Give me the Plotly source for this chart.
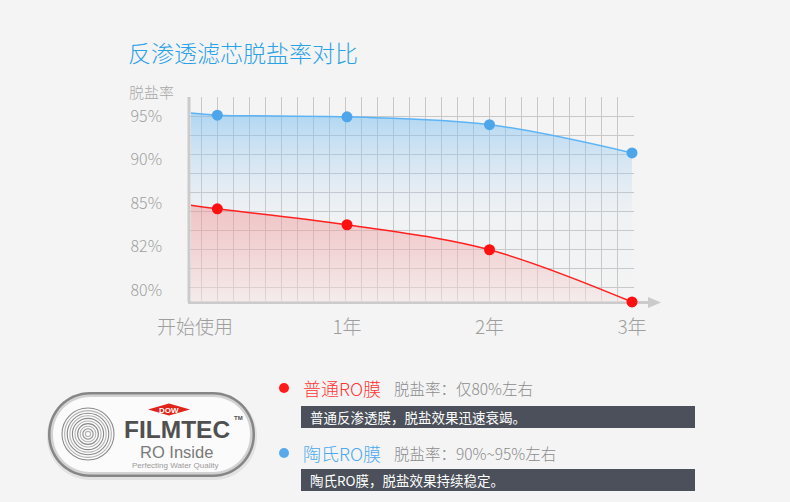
import numpy as np
import plotly.graph_objects as go

# ---------------- data ----------------
categories = ["开始使用", "1年", "2年", "3年"]
category_label_pos = [-0.067, 1, 2, 3]       # where the axis labels sit (years)
point_years = [0.09, 1, 2, 3]                # where the points sit (years)
line_start_year = -0.095                     # lines start at the left axis

y_tick_values = [80, 82, 85, 90, 95]         # non-linear, evenly spaced ticks
y_tick_labels = ["80%", "82%", "85%", "90%", "95%"]

dow_values = [95.1, 94.9, 94.0, 90.75]       # 陶氏RO膜
dow_start = 95.35
normal_values = [84.6, 83.5, 81.85, 79.45]   # 普通RO膜
normal_start = 84.85

# ---------------- styling ----------------
FONT = "Noto Sans CJK SC, Noto Sans, sans-serif"
BG = "#f4f4f4"
BLUE_LINE = "#5db4f5"
BLUE_MARK = "#4ea6ea"
RED_LINE = "#ff2020"
RED_MARK = "#ff1010"
GRID = "#c8c8c8"
AXIS = "#cbcbcb"

L, R, T, B = 189, 634, 97, 302
PX_PER_TICK = 43.5
BASE = 12 / PX_PER_TICK
Y_TOP = (B - T) / PX_PER_TICK
X_LEFT = (L - 204.5) / 142.5
X_RIGHT = (R - 204.5) / 142.5


def to_axis(v):
    v = np.asarray(v, float)
    lv = np.array(y_tick_values, float)
    idx = np.interp(v, lv, np.arange(len(lv)))
    idx = np.where(v < lv[0], (v - lv[0]) / (lv[1] - lv[0]), idx)
    idx = np.where(v > lv[-1], len(lv) - 1 + (v - lv[-1]) / (lv[-1] - lv[-2]), idx)
    return idx + BASE


def px(x):
    return (x - L) / (R - L)


def py(y):
    return (B - y) / (B - T)


def rrect(x0, y0, x1, y1, r):
    k = 0.5523 * r
    P = lambda x, y: f"{px(x):.5f},{py(y):.5f}"
    return (f"M{P(x0+r,y0)} L{P(x1-r,y0)} C{P(x1-r+k,y0)} {P(x1,y0+r-k)} {P(x1,y0+r)} "
            f"L{P(x1,y1-r)} C{P(x1,y1-r+k)} {P(x1-r+k,y1)} {P(x1-r,y1)} "
            f"L{P(x0+r,y1)} C{P(x0+r-k,y1)} {P(x0,y1-r+k)} {P(x0,y1-r)} "
            f"L{P(x0,y0+r)} C{P(x0,y0+r-k)} {P(x0+r-k,y0)} {P(x0+r,y0)} Z")


fig = go.Figure()

# grid carrier (overlay axes in pixel-like units)
fig.add_trace(go.Scatter(x=[300], y=[100], xaxis="x2", yaxis="y2", mode="markers",
                         marker=dict(opacity=0), hoverinfo="skip", showlegend=False))

line_x = [line_start_year] + point_years
dow_y = to_axis([dow_start] + dow_values)
normal_y = to_axis([normal_start] + normal_values)

fig.add_trace(go.Scatter(
    x=line_x, y=dow_y, mode="lines", line=dict(color=BLUE_LINE, width=1.5, shape="spline"),
    fill="tozeroy",
    fillgradient=dict(type="vertical", start=0, stop=float(dow_y.max()),
                      colorscale=[[0, "rgba(190,215,240,0)"], [0.45, "rgba(190,215,240,0.08)"],
                                  [1, "rgba(120,190,240,0.55)"]]),
    hoverinfo="skip", showlegend=False))

fig.add_trace(go.Scatter(
    x=line_x, y=normal_y, mode="lines", line=dict(color=RED_LINE, width=1.5, shape="spline"),
    fill="tozeroy",
    fillgradient=dict(type="vertical", start=0, stop=float(normal_y.max()),
                      colorscale=[[0, "rgba(245,228,228,0.5)"], [1, "rgba(240,130,130,0.40)"]]),
    hoverinfo="skip", showlegend=False))

fig.add_trace(go.Scatter(x=point_years, y=to_axis(dow_values), mode="markers",
                         marker=dict(color=BLUE_MARK, size=11), cliponaxis=False,
                         hoverinfo="skip", showlegend=False))
fig.add_trace(go.Scatter(x=point_years, y=to_axis(normal_values), mode="markers",
                         marker=dict(color=RED_MARK, size=11), cliponaxis=False,
                         hoverinfo="skip", showlegend=False))

shapes = [
    # left axis
    dict(type="line", xref="paper", yref="paper", x0=px(189), x1=px(189), y0=py(302), y1=py(97),
         line=dict(color=AXIS, width=3), layer="below"),
    # bottom axis with arrow
    dict(type="line", xref="paper", yref="paper", x0=px(188), x1=px(652), y0=py(302.5), y1=py(302.5),
         line=dict(color=AXIS, width=3), layer="below"),
    dict(type="path", xref="paper", yref="paper",
         path=f"M{px(648)},{py(297)} L{px(661)},{py(302.5)} L{px(648)},{py(308)} Z",
         fillcolor=AXIS, line=dict(width=0), layer="below"),
    # legend dots
    dict(type="circle", xref="paper", yref="paper", x0=px(279), x1=px(289), y0=py(383), y1=py(393),
         fillcolor="#ff1a1a", line=dict(width=0)),
    dict(type="circle", xref="paper", yref="paper", x0=px(279), x1=px(289), y0=py(448), y1=py(458),
         fillcolor="#58a9ec", line=dict(width=0)),
    # dark boxes
    dict(type="rect", xref="paper", yref="paper", x0=px(301), x1=px(695), y0=py(406), y1=py(428),
         fillcolor="#4b505a", line=dict(width=0)),
    dict(type="rect", xref="paper", yref="paper", x0=px(301), x1=px(695), y0=py(469), y1=py(491),
         fillcolor="#4b505a", line=dict(width=0)),
    # logo pill
    dict(type="path", xref="paper", yref="paper", path=rrect(47, 393, 257, 480, 43),
         fillcolor="rgba(0,0,0,0.07)", line=dict(width=0)),
    dict(type="path", xref="paper", yref="paper", path=rrect(48, 392, 255, 477, 42),
         fillcolor="#868686", line=dict(width=0)),
    dict(type="path", xref="paper", yref="paper", path=rrect(50.5, 394.5, 252.5, 474.5, 39.5),
         fillcolor="#d2d2d2", line=dict(width=0)),
    dict(type="path", xref="paper", yref="paper", path=rrect(53, 397, 250, 472, 37),
         fillcolor="#fbfbfb", line=dict(width=0)),
    # DOW diamond
    dict(type="path", xref="paper", yref="paper",
         path=f"M{px(148)},{py(409.5)} L{px(169)},{py(403.5)} L{px(190)},{py(409.5)} L{px(169)},{py(415.5)} Z",
         fillcolor="#e2231a", line=dict(width=0)),
]
# concentric rings
for i, r in enumerate(np.arange(26, 2, -2.6)):
    shapes.append(dict(type="circle", xref="paper", yref="paper",
                       x0=px(88 - r), x1=px(88 + r), y0=py(434 - r), y1=py(434 + r),
                       line=dict(color="#8a8a8a" if i % 2 == 0 else "#b4b4b4", width=1.1)))

ann = []


def text(x, y, s, size, color, xanchor="left", family=FONT, weight=300):
    ann.append(dict(x=px(x), y=py(y), xref="paper", yref="paper", text=s, showarrow=False,
                    xanchor=xanchor, yanchor="middle",
                    font=dict(family=family, size=size, color=color, weight=weight)))


text(126, 52, "反渗透滤芯脱盐率对比", 23, "#2ba1e8")
text(127, 91, "脱盐率", 15, "#a8a8a8")
text(301, 388, "普通RO膜", 18, "#ff3636")
text(392, 388, "脱盐率：仅80%左右", 15.5, "#8c8c8c")
text(308, 417, "普通反渗透膜，脱盐效果迅速衰竭。", 13.5, "#ffffff", weight=400)
text(301, 453, "陶氏RO膜", 18, "#4aa8ee")
text(392, 453, "脱盐率：90%~95%左右", 15.5, "#8c8c8c")
text(308, 480, "陶氏RO膜，脱盐效果持续稳定。", 13.5, "#ffffff", weight=400)
# logo text
LOGO_FONT = "Liberation Sans, Arial"
text(169, 410, "<b>DOW</b>", 8, "#ffffff", xanchor="center", family=LOGO_FONT, weight=400)
text(177, 429.5, "<b>FILMTEC</b>", 24.5, "#505050", xanchor="center", family=LOGO_FONT, weight=400)
text(232, 418, "<b>TM</b>", 6, "#505050", family=LOGO_FONT, weight=400)
text(176, 452, "RO Inside", 16.5, "#7a7a7a", xanchor="center", family=LOGO_FONT, weight=400)
text(175, 465, "Perfecting Water Quality", 8, "#9a9a9a", xanchor="center", family=LOGO_FONT, weight=400)

fig.update_layout(
    width=790, height=502,
    margin=dict(l=L, r=790 - R, t=T, b=502 - B, autoexpand=False),
    paper_bgcolor=BG, plot_bgcolor="rgba(0,0,0,0)",
    showlegend=False, shapes=shapes, annotations=ann,
    xaxis=dict(range=[X_LEFT, X_RIGHT], tickvals=category_label_pos, ticktext=categories,
               tickfont=dict(family=FONT, size=19, color="#9e9e9e", weight=300), showgrid=False,
               zeroline=False, showline=False, ticks="", ticklabelstandoff=12, fixedrange=True),
    yaxis=dict(range=[0, Y_TOP], tickvals=list(to_axis(y_tick_values)), ticktext=y_tick_labels,
               tickfont=dict(family=FONT, size=16, color="#a0a0a0", weight=300), showgrid=False,
               zeroline=False, showline=False, ticks="", ticklabelstandoff=26, fixedrange=True),
    xaxis2=dict(overlaying="x", anchor="y", range=[L, R], tick0=201.7, dtick=16, showgrid=True,
                gridcolor=GRID, gridwidth=1, showticklabels=False, zeroline=False, ticks="",
                showline=False, side="top", fixedrange=True),
    yaxis2=dict(overlaying="y", anchor="x", range=[0, B - T], tick0=B - 287.3, dtick=19,
                showgrid=True, gridcolor=GRID, gridwidth=1, showticklabels=False, zeroline=False,
                ticks="", showline=False, side="right", fixedrange=True),
)

fig.write_html("out.html", config={"displayModeBar": False},
               post_script="document.body.style.margin='0';document.body.style.background='#f4f4f4';")
